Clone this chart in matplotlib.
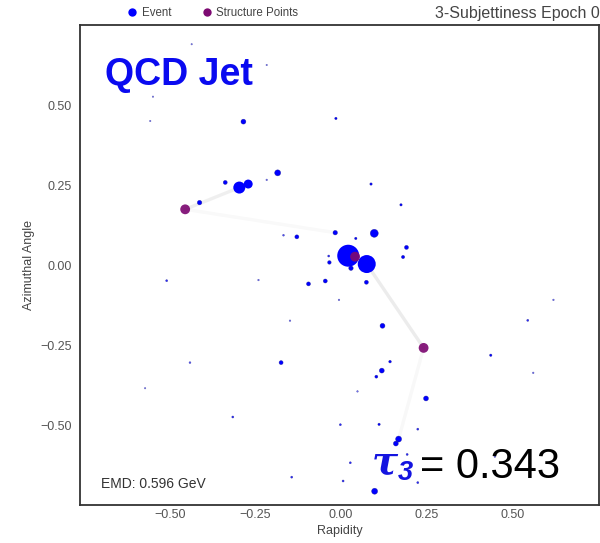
import numpy as np
import matplotlib
matplotlib.use("Agg")
import matplotlib.pyplot as plt
from matplotlib.lines import Line2D

# Event particles: rapidity, azimuthal angle, transverse momentum (arb. units)
event_y = [-0.285, -0.015, -0.185, -0.338, -0.297, -0.271, -0.413, -0.217, -0.129, -0.168,
           -0.017, -0.036, -0.034, -0.095, -0.046, -0.509, -0.241, 0.097, 0.043, 0.021,
           0.075, 0.029, 0.074, 0.191, 0.181, 0.175, 0.0875, -0.006, 0.121, 0.143,
           0.119, 0.103, 0.048, 0.248, 0.437, 0.545, 0.620, 0.561, -0.149, -0.175,
           -0.002, 0.111, 0.224, -0.441, -0.316, -0.144, -0.572, 0.168, 0.160, 0.193,
           0.027, 0.006, 0.224, 0.098, 0.449, -0.549, -0.557, -0.436, -0.217]
event_phi = [0.448, 0.458, 0.288, 0.258, 0.242, 0.253, 0.195, 0.266, 0.088, 0.093,
             0.101, 0.028, 0.008, -0.059, -0.050, -0.049, -0.047, 0.099, 0.083, 0.029,
             0.003, -0.010, -0.054, 0.055, 0.025, 0.188, 0.253, -0.109, -0.190, -0.302,
             -0.330, -0.349, -0.395, -0.417, -0.282, -0.173, -0.109, -0.337, -0.174, -0.305,
             -0.499, -0.498, -0.513, -0.305, -0.475, -0.663, -0.385, -0.544, -0.558, -0.592,
             -0.618, -0.675, -0.680, -0.707, -0.599, 0.526, 0.450, 0.690, 0.625]
event_pt = [6, 1.4, 9, 4, 36, 20, 5, 0.6, 4, 0.8,
            5, 1, 3.2, 4, 4, 1, 0.6, 16, 1.4, 121,
            81, 5, 4, 4, 2.6, 1.4, 1.4, 0.6, 6, 1.7,
            6, 2.2, 0.6, 6, 1.4, 1, 0.6, 0.6, 0.6, 4,
            1, 1.4, 1, 0.8, 1, 1, 0.5, 9, 6, 1,
            1, 1, 1, 9, 0.6, 0.5, 0.5, 0.5, 0.5]

# Subjet axes (structure points)
struct_y = [-0.455, 0.041, 0.241]
struct_phi = [0.174, 0.026, -0.259]

# Transport plan: (structure index, event index, flow strength)
flow_struct = [0, 0, 2, 2]
flow_event = [4, 10, 20, 47]
flow_amount = [0.13, 0.05, 0.16, 0.06]

emd_value = 0.596
tau_value = 0.343

plt.rcParams["font.family"] = ["Liberation Sans", "DejaVu Sans"]
plt.rcParams["mathtext.fontset"] = "custom"
plt.rcParams["mathtext.bfit"] = "DejaVu Serif:italic:bold"
plt.rcParams["mathtext.sf"] = "Liberation Sans:italic:bold"

fig = plt.figure(figsize=(6.0, 5.43), dpi=100)
ax = fig.add_axes([80 / 600, 38 / 543, 519 / 600, 480 / 543])

ex = np.array(event_y)
ep = np.array(event_phi)
pt = np.array(event_pt)
sx = np.array(struct_y)
sp = np.array(struct_phi)

# transport lines
for s, e, a in zip(flow_struct, flow_event, flow_amount):
    ax.plot([sx[s], ex[e]], [sp[s], ep[e]], color="#8a8a8a", lw=2.4,
            alpha=a, solid_capstyle="round", zorder=1)

# event particles, area proportional to pT
sizes = 2.07 * pt
alphas = np.clip(pt / 1.2, 0.3, 1.0)
colors = np.zeros((len(pt), 4))
colors[:, 2] = 1.0
colors[:, 3] = alphas
ax.scatter(ex, ep, s=sizes, c=colors, edgecolors="none", zorder=2)
small = pt < 20
ax.scatter(ex[small], ep[small], s=sizes[small], facecolors="none",
           edgecolors=(0.05, 0.05, 0.55, 0.6), linewidths=0.4, zorder=2)

# structure points
ax.scatter(sx, sp, s=50, color="#7d0a72", alpha=0.92, edgecolors="none", zorder=3)

ax.set_xlim(-0.762, 0.753)
ax.set_ylim(-0.75, 0.75)
ax.set_xticks([-0.5, -0.25, 0.0, 0.25, 0.5])
ax.set_yticks([-0.5, -0.25, 0.0, 0.25, 0.5])
ax.set_xticklabels(["\u22120.50", "\u22120.25", "0.00", "0.25", "0.50"])
ax.set_yticklabels(["\u22120.50", "\u22120.25", "0.00", "0.25", "0.50"])
ax.tick_params(axis="x", length=0, labelsize=9, labelcolor="#555555", pad=3)
ax.tick_params(axis="y", length=0, labelsize=9, labelcolor="#555555", pad=6)
for sp_ in ax.spines.values():
    sp_.set_color("#333333")
    sp_.set_linewidth(1.3)
ax.set_xlabel("Rapidity", fontsize=9, color="#444444", labelpad=3)
ax.set_ylabel("Azimuthal Angle", fontsize=9, color="#444444", labelpad=4)

ax.text(0.04, 0.035, f"EMD: {emd_value:.3f} GeV", transform=ax.transAxes,
        fontsize=10, color="#333333", ha="left", va="baseline")

# legend above the axes
handles = [Line2D([], [], ls="none", marker="o", ms=6, color="blue", mec="none"),
           Line2D([], [], ls="none", marker="o", ms=6, color="#7d0a72", mec="none")]
leg = fig.legend(handles, ["Event", "Structure Points"], loc="center",
                 bbox_to_anchor=(0.354, 0.976), ncol=2, frameon=False,
                 fontsize=8.3, handletextpad=0.3, columnspacing=2.6, handlelength=1.0)
for t in leg.get_texts():
    t.set_color("#444444")

fig.text(0.999, 0.976, "3-Subjettiness Epoch 0", ha="right", va="center",
         fontsize=11.5, color="#444444")

# annotations
fig.text(105 / 600, 1 - 85 / 543, "QCD Jet", fontsize=27, fontweight="bold",
         color="#0a0af0", ha="left", va="baseline")
fig.text(371 / 600, 1 - 475 / 543, r"$\mathbfit{\tau}_{\mathsf{3}}$", fontsize=28,
         color="#1414e0", ha="left", va="baseline")
fig.text(420 / 600, 1 - 478 / 543, f"= {tau_value:.3f}", fontsize=30,
         color="black", ha="left", va="baseline")

fig.savefig("out.png", dpi=100)
